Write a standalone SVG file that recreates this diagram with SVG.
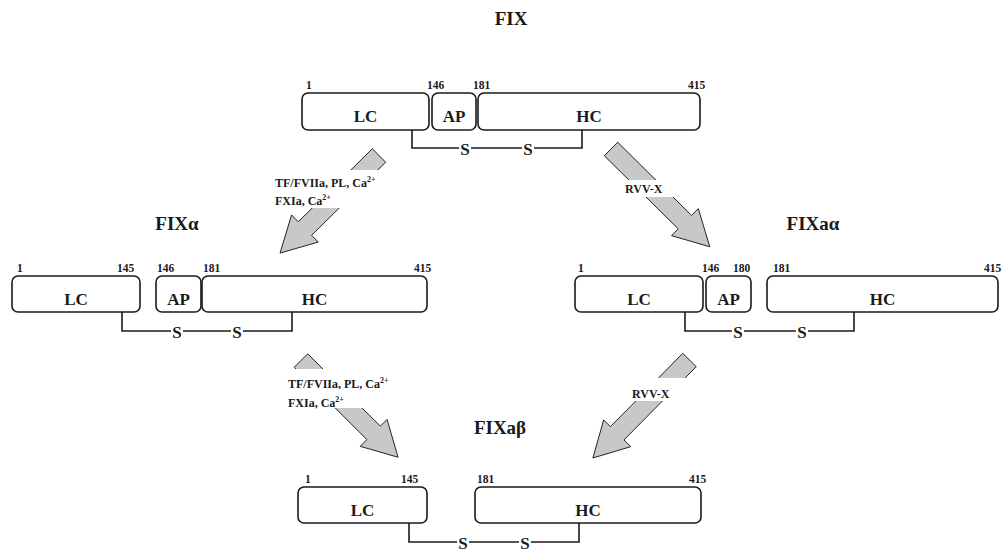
<svg xmlns="http://www.w3.org/2000/svg" width="1006" height="555" viewBox="0 0 1006 555">
<style>
text{font-family:"Liberation Serif","Times New Roman",serif;font-weight:bold;fill:#1a1a1a}
.box{fill:#fff;stroke:#1a1a1a;stroke-width:1.6}
.lbl{font-size:17px;text-anchor:middle}
.num{font-size:11.5px}
.ttl{font-size:19px;text-anchor:middle}
.s{font-size:17px;text-anchor:middle}
.lnk{fill:none;stroke:#1a1a1a;stroke-width:1.6}
.arr{fill:#c8c8c8;stroke:#1a1a1a;stroke-width:0.9;stroke-linejoin:miter}
.alab{font-size:12px}
.sup{font-size:8px}
</style>
<defs>
<polygon id="arrow" points="0,-9.5 104,-9.5 104,-19 139,0 104,19 104,9.5 0,9.5"/>
</defs>
<rect width="1006" height="555" fill="#fff"/>

<g id="connectors">
<use href="#arrow" class="arr" transform="translate(379,155.5) rotate(135.4)"/>
<use href="#arrow" class="arr" transform="translate(611,149) rotate(44.7)"/>
<use href="#arrow" class="arr" transform="translate(301,360.5) rotate(44.9) scale(0.986,1)"/>
<use href="#arrow" class="arr" transform="translate(689.5,360) rotate(134.6) scale(0.99,1)"/>
<rect x="272" y="170" width="116" height="38" fill="#fff"/>
<rect x="620" y="180" width="56" height="17" fill="#fff"/>
<rect x="285" y="369" width="112" height="39" fill="#fff"/>
<rect x="628" y="378" width="62" height="23" fill="#fff"/>
<text class="alab" x="275" y="187">TF/FVIIa, PL, Ca<tspan class="sup" dy="-5">2+</tspan></text>
<text class="alab" x="275" y="205">FXIa, Ca<tspan class="sup" dy="-5">2+</tspan></text>
<text class="alab" x="625" y="193">RVV-X</text>
<text class="alab" x="288" y="388">TF/FVIIa, PL, Ca<tspan class="sup" dy="-5">2+</tspan></text>
<text class="alab" x="288" y="407">FXIa, Ca<tspan class="sup" dy="-5">2+</tspan></text>
<text class="alab" x="632" y="398">RVV-X</text>
</g>

<g id="FIX">
<text class="ttl" x="511" y="25">FIX</text>
<rect class="box" x="302" y="93" width="127" height="37" rx="6"/>
<rect class="box" x="432" y="93" width="44" height="37" rx="6"/>
<rect class="box" x="478" y="93" width="222" height="37" rx="6"/>
<text class="lbl" x="365.5" y="122">LC</text>
<text class="lbl" x="454" y="122">AP</text>
<text class="lbl" x="589" y="122">HC</text>
<text class="num" x="306" y="89">1</text>
<text class="num" x="427" y="89">146</text>
<text class="num" x="473" y="89">181</text>
<text class="num" x="688" y="89">415</text>
<polyline class="lnk" points="412,130 412,148 459,148"/>
<line class="lnk" x1="471" y1="148" x2="522" y2="148"/>
<polyline class="lnk" points="534,148 582,148 582,130"/>
<text class="s" x="465" y="155">S</text>
<text class="s" x="528" y="155">S</text>
</g>

<g id="FIXalpha">
<text class="ttl" x="177" y="230">FIXα</text>
<rect class="box" x="12" y="276" width="128" height="36" rx="6"/>
<rect class="box" x="156" y="276" width="45" height="36" rx="6"/>
<rect class="box" x="202" y="276" width="225" height="36" rx="6"/>
<text class="lbl" x="76" y="305">LC</text>
<text class="lbl" x="178.5" y="305">AP</text>
<text class="lbl" x="314.5" y="305">HC</text>
<text class="num" x="17" y="272">1</text>
<text class="num" x="117" y="272">145</text>
<text class="num" x="157" y="272">146</text>
<text class="num" x="203" y="272">181</text>
<text class="num" x="414" y="272">415</text>
<polyline class="lnk" points="122,312 122,331 171,331"/>
<line class="lnk" x1="183" y1="331" x2="231" y2="331"/>
<polyline class="lnk" points="243,331 292,331 292,312"/>
<text class="s" x="177" y="338">S</text>
<text class="s" x="237" y="338">S</text>
</g>

<g id="FIXaalpha">
<text class="ttl" x="813" y="230">FIXaα</text>
<rect class="box" x="575" y="276" width="128" height="36" rx="6"/>
<rect class="box" x="706" y="276" width="45" height="36" rx="6"/>
<rect class="box" x="767" y="276" width="231" height="36" rx="6"/>
<text class="lbl" x="639" y="305">LC</text>
<text class="lbl" x="728.5" y="305">AP</text>
<text class="lbl" x="882.5" y="305">HC</text>
<text class="num" x="578" y="272">1</text>
<text class="num" x="702" y="272">146</text>
<text class="num" x="733" y="272">180</text>
<text class="num" x="773" y="272">181</text>
<text class="num" x="984" y="272">415</text>
<polyline class="lnk" points="685,312 685,331 732,331"/>
<line class="lnk" x1="744" y1="331" x2="796" y2="331"/>
<polyline class="lnk" points="808,331 854,331 854,312"/>
<text class="s" x="738" y="338">S</text>
<text class="s" x="802" y="338">S</text>
</g>

<g id="FIXabeta">
<text class="ttl" x="500" y="434">FIXaβ</text>
<rect class="box" x="298" y="487" width="129" height="36" rx="6"/>
<rect class="box" x="475" y="487" width="226" height="36" rx="6"/>
<text class="lbl" x="362.5" y="516">LC</text>
<text class="lbl" x="588" y="516">HC</text>
<text class="num" x="305" y="483">1</text>
<text class="num" x="401" y="483">145</text>
<text class="num" x="477" y="483">181</text>
<text class="num" x="689" y="483">415</text>
<polyline class="lnk" points="409,523 409,542 457,542"/>
<line class="lnk" x1="469" y1="542" x2="519" y2="542"/>
<polyline class="lnk" points="531,542 579,542 579,523"/>
<text class="s" x="463" y="549">S</text>
<text class="s" x="525" y="549">S</text>
</g>
</svg>
